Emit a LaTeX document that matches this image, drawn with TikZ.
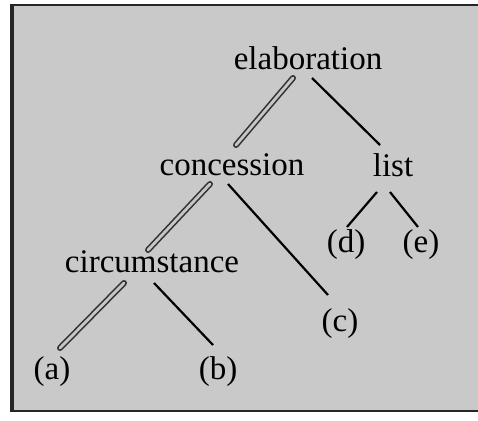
\documentclass[tikz,border=0pt]{standalone}
\usepackage{fontspec}
\setmainfont{Liberation Serif}
\begin{document}
\begin{tikzpicture}[x=1pt,y=-1pt,
  lbl/.style={inner sep=0pt, font=\fontsize{33}{33}\selectfont},
  sat/.style={black, line width=2.2pt},
  nuc/.style={line width=6pt, black!80, line cap=round, postaction={draw, line width=2.8pt, gray!45}},
  frame/.style={draw=black!85, line width=2pt}]
\useasboundingbox (0,0) rectangle (478,420);
\fill[white] (0,0) rectangle (478,420);
\fill[gray!42] (11,5) rectangle (478,411);
\draw[frame] (478,5) -- (11,5) -- (11,411) -- (478,411);
\draw[black!85, line width=3pt] (12,5) -- (12,411);
% nodes
\node[lbl] (elab) at (308,58) {elaboration};
\node[lbl] (conc) at (232,165) {concession};
\node[lbl] (list) at (393,165) {list};
\node[lbl] (circ) at (152,262) {circumstance};
\node[lbl] (d) at (346,245) {(d)};
\node[lbl] (e) at (421,245) {(e)};
\node[lbl] (c) at (340,324) {(c)};
\node[lbl] (a) at (52,372) {(a)};
\node[lbl] (b) at (218,372) {(b)};
% connector end points
\coordinate (e1) at (293,78);
\coordinate (e2) at (312,78);
\coordinate (c1) at (210,184);
\coordinate (c2) at (228,184);
\coordinate (l1) at (377,192);
\coordinate (l2) at (390,192);
\coordinate (r1) at (124,283);
\coordinate (r2) at (154,283);
\coordinate (conctop) at (236,145);
\coordinate (listtop) at (380,145);
\coordinate (circtop) at (148,250);
\coordinate (ctop) at (328,295);
\coordinate (dtop) at (347,227);
\coordinate (etop) at (418,227);
\coordinate (atop) at (60,348);
\coordinate (btop) at (213,345);
% connectors
\draw[nuc] (e1) -- (conctop);
\draw[sat] (e2) -- (listtop);
\draw[nuc] (c1) -- (circtop);
\draw[sat] (c2) -- (ctop);
\draw[sat] (l1) -- (dtop);
\draw[sat] (l2) -- (etop);
\draw[nuc] (r1) -- (atop);
\draw[sat] (r2) -- (btop);
\end{tikzpicture}
\end{document}
